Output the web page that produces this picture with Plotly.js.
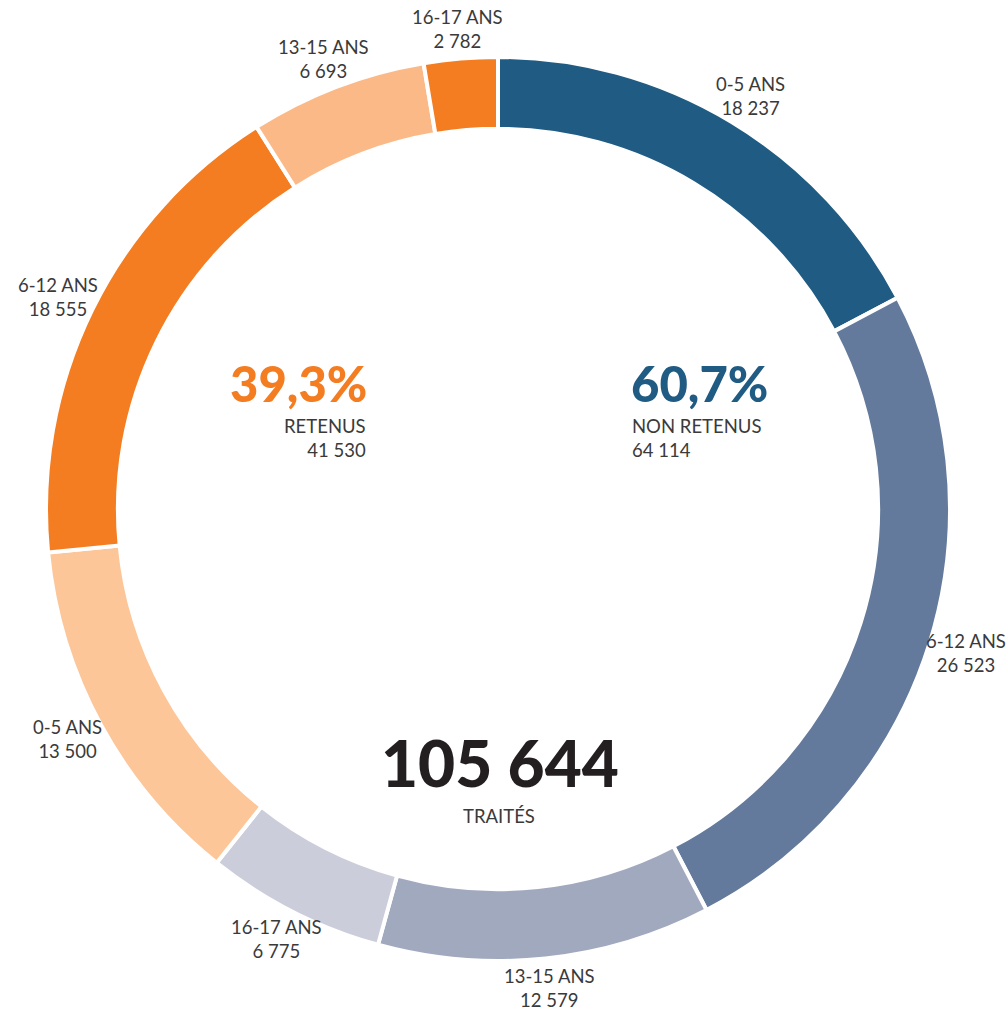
<!DOCTYPE html>
<html>
<head>
<meta charset="utf-8">
<script src="https://cdn.plot.ly/plotly-3.0.1.min.js"></script>
<style>
  html, body { margin: 0; padding: 0; background: #fff; }
  #myPlot { width: 1008px; height: 1014px; }
</style>
</head>
<body>
<div id="myPlot"></div>
<script>
// data
const ageGroups = ["0-5 ANS", "6-12 ANS", "13-15 ANS", "16-17 ANS", "0-5 ANS", "6-12 ANS", "13-15 ANS", "16-17 ANS"];
const status = ["NON RETENUS", "NON RETENUS", "NON RETENUS", "NON RETENUS", "RETENUS", "RETENUS", "RETENUS", "RETENUS"];
const counts = [18237, 26523, 12579, 6775, 13500, 18555, 6693, 2782];
const colors = ["#1f5b82", "#647a9c", "#a1a9be", "#cbcddb", "#fcc699", "#f47c21", "#fbb987", "#f47c21"];
const groupNames = ["NON RETENUS", "RETENUS"];
const groupColors = ["#1f5b82", "#f47c21"];

const W = 1008, H = 1014;
const cx = 498, cy = 509, R = 452;   // pixel centre / outer radius of the ring
const labelRx = 490, labelRy = 482;  // where the slice labels sit

const fmt = n => n.toString().replace(/\B(?=(\d{3})+(?!\d))/g, " ");
const total = counts.reduce((a, b) => a + b, 0);
const groupTotal = g => counts.filter((c, i) => status[i] === g).reduce((a, b) => a + b, 0);
const pct = v => (v / total * 100).toFixed(1).replace(".", ",") + "%";

// pixel -> paper
const px = (x, y) => ({ x: x / W, y: 1 - y / H });

const data = [{
  type: "pie",
  labels: counts.map((c, i) => status[i] + " " + ageGroups[i]),
  values: counts,
  sort: false,
  direction: "clockwise",
  rotation: 0,
  hole: 0.841,
  marker: { colors: colors, line: { color: "#ffffff", width: 4 } },
  textinfo: "none",
  hoverinfo: "skip",
  showlegend: false,
  domain: { x: [(cx - R) / W, (cx + R) / W], y: [1 - (cy + R) / H, 1 - (cy - R) / H] },
}];

const labelFont = { family: "Lato, 'Open Sans', sans-serif", size: 18.5, color: "#3a3a3a" };
const annotations = [];

// slice labels at mid angle of each slice
let cum = 0;
counts.forEach((c, i) => {
  const mid = (cum + c / 2) / total * 2 * Math.PI;
  cum += c;
  const p = px(cx + labelRx * Math.sin(mid), cy - labelRy * Math.cos(mid));
  annotations.push({
    x: p.x, y: p.y, xref: "paper", yref: "paper",
    text: ageGroups[i] + "<br>" + fmt(c),
    showarrow: false, xanchor: "center", yanchor: "middle",
    font: labelFont,
  });
});

// group summaries in the centre
const nr = groupTotal(groupNames[0]);
const re = groupTotal(groupNames[1]);
const bigFont = (color, size) => ({ family: "Lato, sans-serif", size: size, color: color, weight: 900 });

let p = px(629, 414);
annotations.push({ x: p.x, y: p.y, xref: "paper", yref: "paper", xanchor: "left", yanchor: "bottom",
  text: pct(nr), showarrow: false, font: bigFont(groupColors[0], 49) });
p = px(630, 413);
annotations.push({ x: p.x, y: p.y, xref: "paper", yref: "paper", xanchor: "left", yanchor: "top", align: "left",
  text: groupNames[0] + "<br>" + fmt(nr), showarrow: false, font: labelFont });

p = px(369, 414);
annotations.push({ x: p.x, y: p.y, xref: "paper", yref: "paper", xanchor: "right", yanchor: "bottom",
  text: pct(re), showarrow: false, font: bigFont(groupColors[1], 49) });
p = px(368, 413);
annotations.push({ x: p.x, y: p.y, xref: "paper", yref: "paper", xanchor: "right", yanchor: "top", align: "right",
  text: groupNames[1] + "<br>" + fmt(re), showarrow: false, font: labelFont });

p = px(500, 803);
annotations.push({ x: p.x, y: p.y, xref: "paper", yref: "paper", xanchor: "center", yanchor: "bottom",
  text: fmt(total), showarrow: false, font: bigFont("#231f20", 64) });
p = px(499, 803);
annotations.push({ x: p.x, y: p.y, xref: "paper", yref: "paper", xanchor: "center", yanchor: "top",
  text: "TRAITÉS", showarrow: false, font: labelFont });

const layout = {
  width: W,
  height: H,
  margin: { l: 0, r: 0, t: 0, b: 0, pad: 0 },
  paper_bgcolor: "#ffffff",
  plot_bgcolor: "#ffffff",
  annotations: annotations,
};

Plotly.newPlot("myPlot", data, layout, { displayModeBar: false, staticPlot: true });
</script>
</body>
</html>
